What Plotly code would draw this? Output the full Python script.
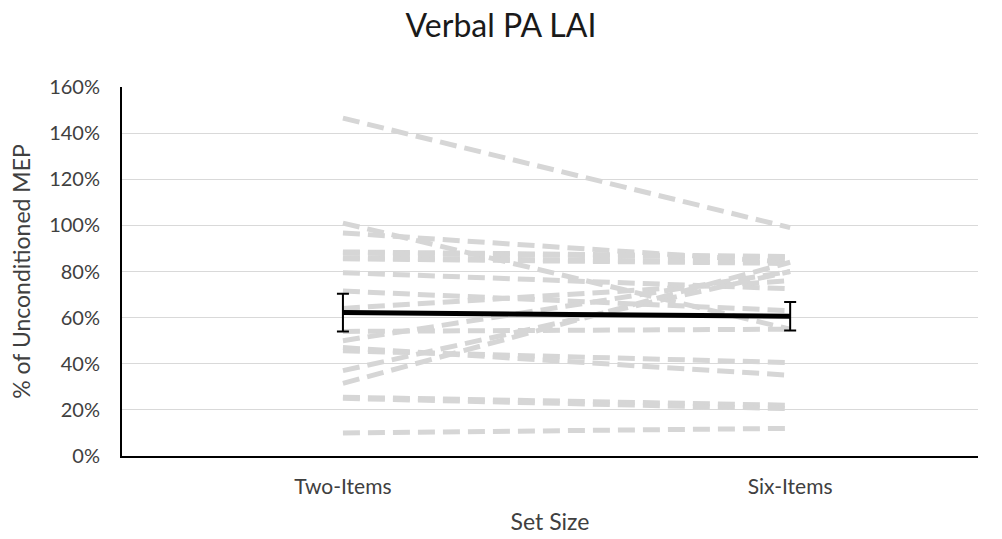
import plotly.graph_objects as go

categories = ["Two-Items", "Six-Items"]
x_pos = [0, 1]

# individual participant values (% of unconditioned MEP)
two_items = [146.5, 101, 96.7, 88.5, 88, 86, 85.5, 79.5, 71.5, 64, 54, 50, 45.6, 47, 37, 31.5, 25.5, 25, 10]
six_items = [99, 55, 84, 86.5, 86, 84, 83.5, 72.5, 63, 76, 55, 80, 40.5, 35, 80, 84, 22, 20.5, 12]

mean_vals = [62.2, 60.6]
sem_vals = [8.2, 6.2]

y_ticks = [0, 20, 40, 60, 80, 100, 120, 140, 160]
y_tick_text = [f"{v}%" for v in y_ticks]

FONT = "Lato"
TXT = "#404040"

fig = go.Figure()

for a, b in zip(two_items, six_items):
    fig.add_trace(go.Scatter(
        x=x_pos, y=[a, b], mode="lines",
        line=dict(color="#d6d6d6", width=5, dash="17px,8px"),
        showlegend=False, hoverinfo="skip"))

fig.add_trace(go.Scatter(
    x=x_pos, y=mean_vals, mode="lines",
    line=dict(color="black", width=5),
    error_y=dict(type="data", array=sem_vals, visible=True,
                 color="black", thickness=2, width=6),
    showlegend=False))

fig.update_layout(
    width=1002, height=539,
    margin=dict(l=122, r=24, t=87, b=83),
    paper_bgcolor="white", plot_bgcolor="white",
    title=dict(text="Verbal PA LAI", x=0.5, xanchor="center", y=0.952, yanchor="middle",
               font=dict(family=FONT, size=32, color="#1a1a1a")),
    font=dict(family=FONT, color=TXT),
)

fig.update_xaxes(
    range=[-0.494, 1.42], tickvals=x_pos, ticktext=categories,
    showgrid=False, zeroline=False, automargin=False,
    showline=True, linecolor="black", linewidth=2,
    ticks="", ticklabelstandoff=11,
    tickfont=dict(family=FONT, size=21, color=TXT),
    title=dict(text="Set Size", standoff=17, font=dict(family=FONT, size=23, color=TXT)),
)

fig.update_yaxes(
    range=[0, 160], tickvals=y_ticks, ticktext=y_tick_text,
    showgrid=True, gridcolor="#d9d9d9", gridwidth=1,
    zeroline=False, automargin=False,
    showline=True, linecolor="black", linewidth=2,
    ticks="", ticklabelstandoff=16,
    tickfont=dict(family=FONT, size=20, color=TXT),
    title=dict(text="% of Unconditioned MEP", standoff=12, font=dict(family=FONT, size=23, color=TXT)),
)

fig.write_html("out.html")
